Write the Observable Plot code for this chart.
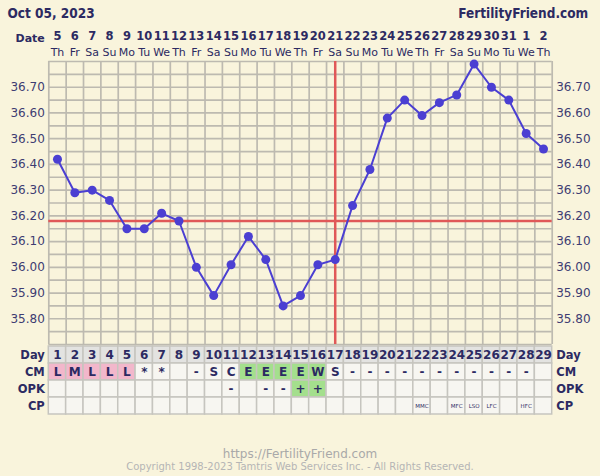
<!DOCTYPE html>
<html>
<head>
<meta charset="utf-8">
<script src="https://cdn.jsdelivr.net/npm/d3@7"></script>
<script src="https://cdn.jsdelivr.net/npm/@observablehq/plot@0.6"></script>
<style>
  html, body { margin: 0; padding: 0; background: #f9f4dc; }
  #wrap { position: relative; width: 600px; height: 476px; background: #f9f4dc; overflow: hidden; font-family: "DejaVu Sans", sans-serif; }
  #wrap > .layer { position: absolute; left: 0; }
  .foot1 { position: absolute; left: 0; width: 600px; top: 447px; text-align: center; font-size: 12px; color: #a9a9a9; }
  .foot2 { position: absolute; left: 0; width: 600px; top: 461px; text-align: center; font-size: 10px; color: #b5b5b5; }
</style>
</head>
<body>
<div id="wrap"></div>
<script>
// ---- data ----
const chartTitle = "Oct 05, 2023";
const siteName = "FertilityFriend.com";
const days = [1,2,3,4,5,6,7,8,9,10,11,12,13,14,15,16,17,18,19,20,21,22,23,24,25,26,27,28,29];
const dateLabels = ["5","6","7","8","9","10","11","12","13","14","15","16","17","18","19","20","21","22","23","24","25","26","27","28","29","30","31","1","2"];
const weekdays = ["Th","Fr","Sa","Su","Mo","Tu","We","Th","Fr","Sa","Su","Mo","Tu","We","Th","Fr","Sa","Su","Mo","Tu","We","Th","Fr","Sa","Su","Mo","Tu","We","Th"];
const temps = [36.42,36.29,36.30,36.26,36.15,36.15,36.21,36.18,36.00,35.89,36.01,36.12,36.03,35.85,35.89,36.01,36.03,36.24,36.38,36.58,36.65,36.59,36.64,36.67,36.79,36.70,36.65,36.52,36.46];
const coverline = 36.18;
const ovulationDay = 17;
const yTicks = [35.80,35.90,36.00,36.10,36.20,36.30,36.40,36.50,36.60,36.70];
const yGridLines = [35.70,35.75,35.80,35.85,35.90,35.95,36.00,36.05,36.10,36.15,36.20,36.25,36.30,36.35,36.40,36.45,36.50,36.55,36.60,36.65,36.70,36.75,36.80];
const rows = ["Day","CM","OPK","CP"];
const cm = ["L","M","L","L","L","*","*","","-","S","C","E","E","E","E","W","S","-","-","-","-","-","-","-","-","-","-","-",""];
const opk = ["","","","","","","","","","","-","","-","-","+","+","","","","","","","","","","","","",""];
const cp = ["","","","","","","","","","","","","","","","","","","","","","MMC","","MFC","LSO","LFC","","HFC",""];
const footerUrl = "https://FertilityFriend.com";
const footerCopy = "Copyright 1998-2023 Tamtris Web Services Inc. - All Rights Reserved.";

// ---- styles ----
const navy = "#2c2a62";
const gridC = "#bdbab0";
const red = "#e05858";
const blue = "#4b3fd2";
const pink = "#f2b7cb";
const green = "#a4df8d";
const ML = 48.3, MR = 48.3;
const font = "DejaVu Sans, sans-serif";

const pts = days.map((d, i) => ({day: d, temp: temps[i], date: dateLabels[i], wd: weekdays[i]}));

const wrap = document.getElementById("wrap");

const main = Plot.plot({
  width: 600, height: 345,
  marginTop: 61, marginBottom: 1, marginLeft: ML, marginRight: MR,
  style: {background: "transparent", fontFamily: font, overflow: "visible"},
  x: {domain: [0.5, 29.5], axis: null},
  y: {domain: [35.70, 36.80], axis: null},
  marks: [
    Plot.ruleY(yGridLines, {stroke: gridC, strokeWidth: 1.7}),
    Plot.ruleX(days.map(d => d - 0.5).concat([29.5]), {stroke: gridC, strokeWidth: 1.7}),
    Plot.axisY({anchor: "left", label: null, ticks: yTicks, tickFormat: d => d.toFixed(2), tickSize: 0, tickPadding: 4, fontSize: 12, fill: "#3e3c72"}),
    Plot.axisY({anchor: "right", label: null, ticks: yTicks, tickFormat: d => d.toFixed(2), tickSize: 0, tickPadding: 4, fontSize: 12, fill: "#3e3c72"}),
    Plot.ruleY([coverline], {stroke: red, strokeWidth: 2.5}),
    Plot.ruleX([ovulationDay], {stroke: red, strokeWidth: 2.5}),
    Plot.line(pts, {x: "day", y: "temp", stroke: blue, strokeWidth: 2}),
    Plot.dot(pts, {x: "day", y: "temp", r: 4.5, fill: blue}),
    Plot.text(pts, {x: "day", text: "date", frameAnchor: "top", dy: -30, fontWeight: "bold", fontSize: 11.5, fill: navy}),
    Plot.text(pts, {x: "day", text: "wd", frameAnchor: "top", dy: -13, fontSize: 11, fill: navy}),
    Plot.text(["Date"], {frameAnchor: "top-left", dx: -4, dy: -27, textAnchor: "end", fontWeight: "bold", fontSize: 11, fill: navy}),
    Plot.text([chartTitle], {frameAnchor: "top-left", dx: 7 - ML, dy: -53, textAnchor: "start", fontWeight: "bold", fontSize: 13.5, fill: navy, fontFamily: "DejaVu Sans Condensed, DejaVu Sans"}),
    Plot.text([siteName], {frameAnchor: "top-right", dx: 36, dy: -53, textAnchor: "end", fontWeight: "bold", fontSize: 13.5, fill: navy, fontFamily: "DejaVu Sans Condensed, DejaVu Sans"})
  ]
});
main.classList.add("layer");
main.style.top = "0px";
wrap.appendChild(main);

// table
const cells = [];
days.forEach((d, i) => {
  cells.push({day: d, row: "Day", text: String(d), fill: "#e3e3e1", small: false});
  cells.push({day: d, row: "CM", text: cm[i], fill: (cm[i] === "L" || cm[i] === "M") ? pink : (cm[i] === "E" || cm[i] === "W") ? green : "#f7f6f1", small: false});
  cells.push({day: d, row: "OPK", text: opk[i], fill: opk[i] === "+" ? green : "#f7f6f1", small: false});
  cells.push({day: d, row: "CP", text: cp[i], fill: "#f7f6f1", small: true});
});

const table = Plot.plot({
  width: 600, height: 71,
  marginTop: 1, marginBottom: 1, marginLeft: ML, marginRight: MR,
  style: {background: "transparent", fontFamily: font, overflow: "visible"},
  x: {domain: [0.5, 29.5], axis: null},
  y: {domain: rows, type: "band", padding: 0, axis: null},
  color: {type: "identity"},
  marks: [
    Plot.barX(cells, {x1: d => d.day - 0.5, x2: d => d.day + 0.5, y: "row", fill: "fill", stroke: "#c6c5bf", strokeWidth: 1.5, inset: 0}),
    Plot.axisY({anchor: "left", label: null, tickSize: 0, tickPadding: 4, fontSize: 11.5, fontWeight: "bold", fill: navy}),
    Plot.axisY({anchor: "right", label: null, tickSize: 0, tickPadding: 4, fontSize: 11.5, fontWeight: "bold", fill: navy}),
    Plot.text(cells.filter(c => !c.small), {x: "day", y: "row", text: "text", fontWeight: "bold", fontSize: 12, fill: navy}),
    Plot.text(cells.filter(c => c.small), {x: "day", y: "row", text: "text", fontSize: 5.5, fill: navy})
  ]
});
table.classList.add("layer");
table.style.top = "344px";
wrap.appendChild(table);

const f1 = document.createElement("div"); f1.className = "foot1"; f1.textContent = footerUrl; wrap.appendChild(f1);
const f2 = document.createElement("div"); f2.className = "foot2"; f2.textContent = footerCopy; wrap.appendChild(f2);
</script>
</body>
</html>
